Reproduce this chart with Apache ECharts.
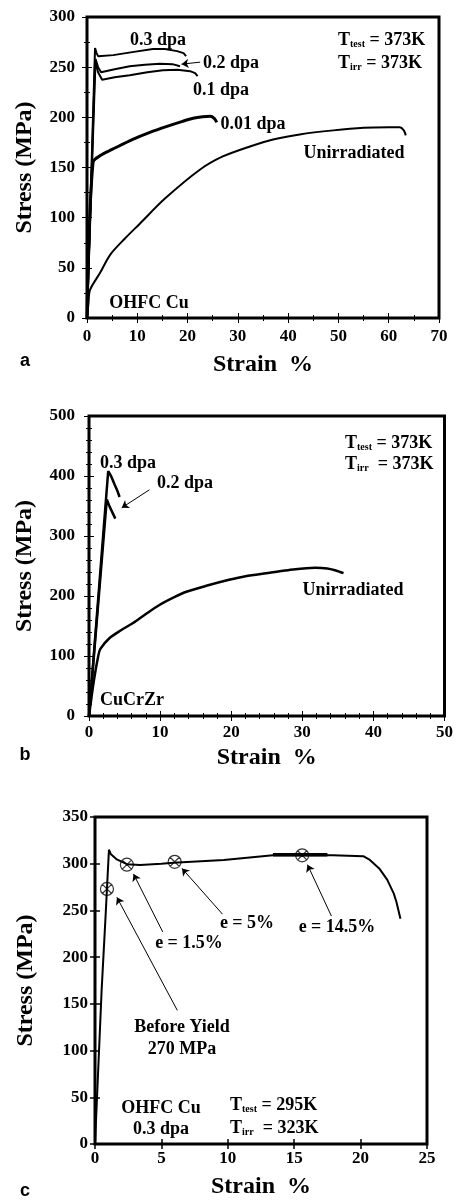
<!DOCTYPE html>
<html>
<head>
<meta charset="utf-8">
<script src="https://cdn.jsdelivr.net/npm/echarts/dist/echarts.min.js"></script>
<style>
html,body{margin:0;padding:0;background:#fff}
#main{width:456px;height:1200px}
</style>
</head>
<body>
<div id="main"></div>
<script>
// ---- data: [strain %, stress MPa] ----
// panel a : OHFC Cu, Ttest = Tirr = 373K
var aUnirr = [[0,0],[0.3,15],[0.6,28],[2.6,45],[4.6,63],[7.5,79],[10.5,94],[15.5,119],[22.5,148],[27,161],[32.4,171],[37,178],[42.3,183],[49,187],[55,189.5],[60,190],[62.2,190],[63,187],[63.4,182]];
var a001 = [[0,0],[1.2,155],[3,163],[5,168],[9.1,178],[12.5,185],[15.9,191],[19,196],[21.1,199],[23,200.5],[24.5,201],[25.3,199],[25.8,195]];
var a01 = [[0,0],[1.6,256],[2.2,245],[3,237.5],[5.5,240],[8.5,242],[12,245],[15.1,247],[18,247.5],[20.5,246],[21.5,244],[22,241]];
var a02 = [[0,0],[1.7,258],[2.2,250],[2.8,245],[5.5,248],[8.5,251],[11.5,252.5],[14.5,253.5],[17,253],[18.5,251]];
var a03 = [[0,0],[1.6,269],[1.9,264],[2.2,261],[5.2,262],[9,265],[13.1,268],[15.5,268],[17.9,266],[19.2,264],[19.7,261]];
var aArrow = [[22.5,255],[18.8,253]];

// panel b : CuCrZr
var bUnirr = [[0,0],[0.7,60],[1.3,100],[1.6,112],[2.9,130],[4.5,143],[6.2,155],[8,170],[9.9,185],[12,198],[13.7,207],[16.5,217],[19.7,227],[22,233],[24.9,238],[28,243],[31.8,247],[33.5,246],[34.6,243],[35.8,238]];
var b03 = [[0,0],[2.7,408],[3.1,400],[3.6,386],[4.0,375],[4.3,365]];
var b02 = [[0,0],[2.5,361],[2.9,349],[3.3,339],[3.7,329]];
var bArrow = [[8.5,377],[4.6,347]];

// panel c : OHFC Cu 0.3 dpa, Ttest 295K, Tirr 323K
var cCurve = [[0,0],[0.5,165],[0.8,245],[1.05,315],[1.2,310],[1.6,305],[2.4,299.5],[3.4,298.5],[5,300],[5.9,301],[9.7,304],[13.4,309],[17.9,309],[20.2,308],[20.7,304],[21.4,295],[22,283],[22.5,268],[22.7,259],[23,241]];
var cFlat = [[13.4,309.5],[17.5,309.5]];
var cMarkers = [[0.9,273],[2.4,299],[6.0,302],[15.6,309]];
var cArrowFrom = [[6.2,143],[5.1,227],[9.6,246],[17.8,244]];
var cArrowTo = [[1.65,264],[2.9,289],[6.55,295],[16.0,299]];

var serif = '"Liberation Serif","Times New Roman",serif';
var sans = '"Liberation Sans",Arial,sans-serif';

// layout of the three panels
var panels = [
  {left:87, top:17, width:352, height:301, xMax:70, xInt:10, xMinor:2, yMax:300, yInt:50, yMinor:2, xMargin:10, yMargin:12, xGap:35, yGap:50, tickW:1},
  {left:89, top:416, width:358, height:300, xMax:50, xInt:10, xMinor:5, yMax:500, yInt:100, yMinor:5, xMargin:8, yMargin:14, xGap:30, yGap:52, tickW:1},
  {left:95, top:817, width:332, height:331, xMax:25, xInt:5, xMinor:0, yMax:350, yInt:50, yMinor:0, xMargin:6, yMargin:7, xGap:31, yGap:57, tickW:1.5}
];

var grids = [], xAxes = [], yAxes = [];
panels.forEach(function(p, i){
  grids.push({left:p.left, top:p.top, width:p.width, height:p.height, show:true, borderColor:'#000', borderWidth:3, backgroundColor:'transparent'});
  ['bottom','top'].forEach(function(pos){
    xAxes.push({
      type:'value', gridIndex:i, position:pos, min:0, max:p.xMax, interval:p.xInt,
      name: pos=='bottom' ? 'Strain  %' : '', nameLocation:'middle', nameGap:p.xGap,
      nameTextStyle:{fontFamily:serif, fontWeight:'bold', fontSize:24, color:'#000'},
      axisLine:{show:false}, splitLine:{show:false},
      axisTick:{inside:true, length:5, lineStyle:{color:'#000', width:p.tickW}},
      minorTick:{show:p.xMinor>0, splitNumber:p.xMinor||1, length:3, lineStyle:{color:'#000', width:1}},
      axisLabel:{show:pos=='bottom', margin:p.xMargin, fontFamily:serif, fontWeight:'bold', fontSize:17, color:'#000', showMaxLabel:true, showMinLabel:true}
    });
  });
  ['left','right'].forEach(function(pos){
    yAxes.push({
      type:'value', gridIndex:i, position:pos, min:0, max:p.yMax, interval:p.yInt,
      name: pos=='left' ? 'Stress (MPa)' : '', nameLocation:'middle', nameGap:p.yGap,
      nameTextStyle:{fontFamily:serif, fontWeight:'bold', fontSize:24, color:'#000'},
      axisLine:{show:false}, splitLine:{show:false},
      axisTick:{inside:true, length:5, lineStyle:{color:'#000', width:p.tickW}},
      minorTick:{show:p.yMinor>0, splitNumber:p.yMinor||1, length:3, lineStyle:{color:'#000', width:1}},
      axisLabel:{show:pos=='left', margin:p.yMargin, fontFamily:serif, fontWeight:'bold', fontSize:17, color:'#000'}
    });
  });
});

function line(data, panel, w, extra){
  var s = {type:'line', data:data, xAxisIndex:panel*2, yAxisIndex:panel*2, showSymbol:false, symbol:'none',
    lineStyle:{color:'#000', width:w}, itemStyle:{color:'#000'}, silent:true, z:3, smooth:false};
  if (extra) for (var k in extra) s[k] = extra[k];
  return s;
}
function arrows(from, to){
  return {silent:true, symbol:['none','arrow'], symbolSize:7, label:{show:false},
    lineStyle:{color:'#000', width:1, type:'solid'},
    data: from.map(function(f, i){ return [{coord:f}, {coord:to[i]}]; })};
}

var series = [
  line(aUnirr, 0, 2, {smooth:0.3}),
  line(a001, 0, 3, {smooth:0.3}),
  line(a01, 0, 2),
  line(a02, 0, 2, {markLine:arrows([aArrow[0]], [aArrow[1]])}),
  line(a03, 0, 2),
  line(bUnirr, 1, 2.5, {smooth:0.3}),
  line(b03, 1, 2.5),
  line(b02, 1, 2.5, {markLine:arrows([bArrow[0]], [bArrow[1]])}),
  line(cCurve, 2, 2, {markLine:arrows(cArrowFrom, cArrowTo)}),
  line(cFlat, 2, 3.5),
  {type:'scatter', data:cMarkers, xAxisIndex:4, yAxisIndex:4, silent:true, z:4,
    symbol:'path://M10,0A10,10,0,1,1,-10,0A10,10,0,1,1,10,0ZM-7,-7L7,7M7,-7L-7,7', symbolSize:13,
    itemStyle:{color:'rgba(255,255,255,0)', borderColor:'#000', borderWidth:1.2}}
];

function txt(x, y, s, size, align, fam){
  return {type:'text', x:x, y:y, silent:true, z:10, style:{
    text:s, fill:'#000', fontSize:size||18, fontWeight:'bold', fontFamily:fam||serif,
    align:align||'center', textAlign:align||'center', verticalAlign:'middle', textVerticalAlign:'middle',
    rich:{s:{fontSize:10, fontWeight:'bold', fontFamily:serif, fill:'#000', verticalAlign:'bottom'},
          n:{fontSize:18, fontWeight:'bold', fontFamily:serif, fill:'#000'}}
  }};
}
var graphics = [
  // a
  txt(158, 40, '0.3 dpa'), txt(231, 63, '0.2 dpa'), txt(221, 90, '0.1 dpa'),
  txt(253, 124, '0.01 dpa'), txt(354, 153, 'Unirradiated'), txt(149, 303, 'OHFC Cu'),
  txt(338, 40, '{n|T}{s|test}{n| = 373K}', 18, 'left'),
  txt(338, 63, '{n|T}{s|irr}{n| = 373K}', 18, 'left'),
  txt(25, 361, 'a', 18, 'center', sans),
  // b
  txt(128, 463, '0.3 dpa'), txt(185, 483, '0.2 dpa'), txt(353, 590, 'Unirradiated'), txt(132, 700, 'CuCrZr'),
  txt(345, 443, '{n|T}{s|test}{n| = 373K}', 18, 'left'),
  txt(345, 464, '{n|T}{s|irr}{n|  = 373K}', 18, 'left'),
  txt(25, 755, 'b', 18, 'center', sans),
  // c
  txt(189, 943, 'e = 1.5%'), txt(247, 923, 'e = 5%'), txt(337, 927, 'e = 14.5%'),
  txt(182, 1027, 'Before Yield'), txt(182, 1049, '270 MPa'),
  txt(161, 1108, 'OHFC Cu'), txt(161, 1129, '0.3 dpa'),
  txt(230, 1105, '{n|T}{s|test}{n| = 295K}', 18, 'left'),
  txt(230, 1128, '{n|T}{s|irr}{n|  = 323K}', 18, 'left'),
  txt(25, 1191, 'c', 18, 'center', sans)
];

var myChart = echarts.init(document.getElementById('main'));
myChart.setOption({
  animation:false,
  backgroundColor:'#fff',
  grid:grids, xAxis:xAxes, yAxis:yAxes,
  series:series,
  graphic:graphics
});
</script>
</body>
</html>
